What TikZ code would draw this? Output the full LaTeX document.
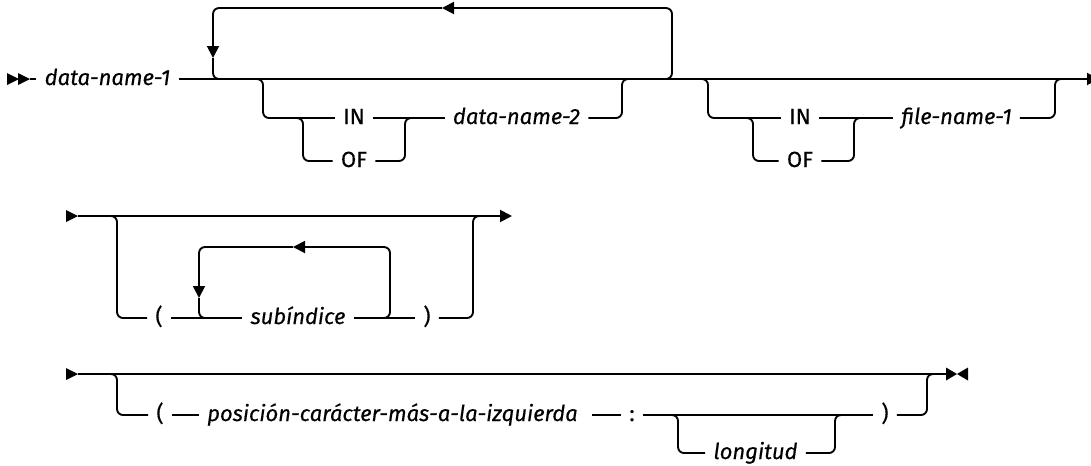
\documentclass[tikz,border=0pt]{standalone}
\usepackage{fontspec}
\setmainfont{Fira Sans}[FakeBold=0.4]
\usetikzlibrary{arrows.meta}
\begin{document}
\begin{tikzpicture}[x=0.75pt,y=-0.75pt,
  rail/.style={line width=1.4pt, rounded corners=4.5pt},
  arr/.style={-{Triangle[length=9pt,width=9pt]}},
  lbl/.style={font=\fontsize{16.5}{19}\selectfont, inner xsep=6pt, inner ysep=0pt,
              text height=12pt, text depth=3pt},
  var/.style={lbl, font=\fontsize{16.5}{19}\selectfont\itshape}
]
\useasboundingbox (0,0) rectangle (1091,465);

% ---------- first line ----------
\node[var] (dn1) at (107.5,79) {data-name-1};
\node[lbl] (in1) at (354,118) {IN};
\node[lbl] (of1) at (354,161) {OF};
\node[var] (dn2) at (516.5,118) {data-name-2};
\node[lbl] (in2) at (800,118) {IN};
\node[lbl] (of2) at (800,161) {OF};
\node[var] (fn1) at (956.5,118) {file-name-1};

\coordinate (s1) at (30,79);
\coordinate (e1) at (1099,79);

% start marker
\fill (7,73) -- (19,79) -- (7,85) -- cycle;
\fill (18,73) -- (30,79) -- (18,85) -- cycle;

% main rail
\draw[rail] (s1) -- (dn1.west);
\draw[rail,arr] (dn1.east) -- (e1);

% repeat loop
\coordinate (lpA) at (650,79);
\coordinate (lpT) at (442,8);
\coordinate (lpL) at (213,58);
\coordinate (lpC) at (235,79);
\draw[rail,arr] (lpA) -| (672,8) -- (lpT);
\draw[rail,arr] (lpT) -| (lpL);
\draw[rail] (lpL) |- (lpC);

% optional IN/OF data-name-2
\coordinate (b1a) at (251,79);
\coordinate (b1b) at (291,118);
\coordinate (b1c) at (417,118);
\coordinate (b1d) at (634,79);
\draw[rail] (b1a) -| (263,118) -- (in1.west);
\draw[rail] (b1b) -| (303,161) -- (of1.west);
\draw[rail] (in1.east) -- (dn2.west);
\draw[rail] (of1.east) -| (405,118) -- (b1c);
\draw[rail] (dn2.east) -| (622,79) -- (b1d);

% optional IN/OF file-name-1
\coordinate (b2a) at (696,79);
\coordinate (b2b) at (741,118);
\coordinate (b2c) at (866,118);
\coordinate (b2d) at (1067,79);
\draw[rail] (b2a) -| (708,118) -- (in2.west);
\draw[rail] (b2b) -| (753,161) -- (of2.west);
\draw[rail] (in2.east) -- (fn1.west);
\draw[rail] (of2.east) -| (854,118) -- (b2c);
\draw[rail] (fn1.east) -| (1055,79) -- (b2d);

% ---------- second line ----------
\node[lbl] (lp1) at (159,318) {(};
\node[var] (sub) at (298,318) {subíndice};
\node[lbl] (rp1) at (427,318) {)};

\coordinate (s2) at (78,216);
\coordinate (e2) at (512,216);
\fill (66,210) -- (78,216) -- (66,222) -- cycle;
\draw[rail,arr] (s2) -- (e2);

\coordinate (c2a) at (105,216);
\coordinate (c2b) at (485,216);
\draw[rail] (c2a) -| (117,318) -- (lp1.west);
\draw[rail] (lp1.east) -- (sub.west);
\draw[rail] (sub.east) -- (rp1.west);
\draw[rail] (rp1.east) -| (473,216) -- (c2b);

% subscript repeat loop
\coordinate (l2A) at (378,318);
\coordinate (l2T) at (293,247);
\coordinate (l2L) at (199,298);
\coordinate (l2C) at (211,318);
\draw[rail,arr] (l2A) -| (390,247) -- (l2T);
\draw[rail,arr] (l2T) -| (l2L);
\draw[rail] (l2L) |- (l2C);

% ---------- third line ----------
\node[lbl] (lp2) at (160,415) {(};
\node[var, anchor=west] (pos) at (199,415) {posición-carácter-más-a-la-izquierda};
\node[lbl] (col) at (632,415) {:};
\node[var] (lon) at (755.5,453) {longitud};
\node[lbl] (rp2) at (885,415) {)};

\coordinate (s3) at (78,374);
\coordinate (e3) at (946,374);
\fill (66,368) -- (78,374) -- (66,380) -- cycle;
\draw[rail] (s3) -- (e3);
% end marker
\fill (946,367.5) -- (957,374) -- (946,380.5) -- cycle;
\fill (968,367.5) -- (957,374) -- (968,380.5) -- cycle;

\coordinate (c3a) at (105,374);
\coordinate (posR) at (592,415);
\coordinate (c3b) at (666,415);
\coordinate (c3c) at (847,415);
\coordinate (c3d) at (939,374);
\draw[rail] (c3a) -| (117,415) -- (lp2.west);
\draw[rail] (lp2.east) -- (pos.west);
\draw[rail] (posR) -- (col.west);
\draw[rail] (col.east) -- (rp2.west);
\draw[rail] (c3b) -| (678,453) -- (lon.west);
\draw[rail] (lon.east) -| (835,415) -- (c3c);
\draw[rail] (rp2.east) -| (927,374) -- (c3d);
\end{tikzpicture}
\end{document}
